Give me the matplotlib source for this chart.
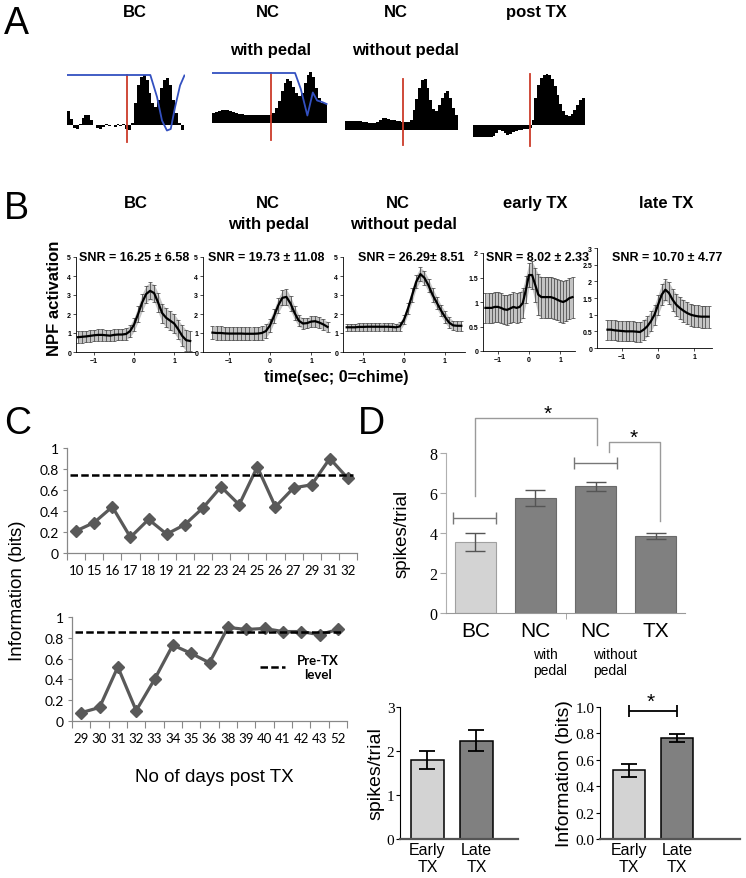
import numpy as np
import matplotlib
matplotlib.use("Agg")
import matplotlib.pyplot as plt
from matplotlib.ticker import FuncFormatter
import matplotlib.transforms as mtrans

plt.rcParams['font.family'] = ['Liberation Sans', 'DejaVu Sans']
CAL = 'Lato'
SERIF = ['Liberation Serif', 'DejaVu Serif']

# ---------------- data ----------------
# A: peri-chime histograms (40 bins, 0 = baseline)
psth_bc = [0.28, 0.12, -0.05, -0.08, 0.02, 0.15, 0.2, 0.2, 0.1, 0.0,
           -0.05, -0.08, -0.03, 0.02, -0.02, 0.01, -0.03, 0.02, -0.01, 0.03,
           -0.08, -0.1, 0.05, 0.45, 0.8, 0.97, 1.0, 0.9, 0.65, 0.45,
           0.37, 0.5, 0.75, 0.9, 0.94, 0.8, 0.5, 0.25, 0.05, -0.1]
psth_nc_pedal = [0.2, 0.22, 0.25, 0.26, 0.26, 0.26, 0.25, 0.23, 0.21, 0.19,
                 0.18, 0.17, 0.17, 0.16, 0.16, 0.16, 0.16, 0.16, 0.16, 0.17,
                 0.17, 0.2, 0.3, 0.45, 0.65, 0.8, 0.88, 0.85, 0.72, 0.6,
                 0.55, 0.6, 0.8, 0.97, 1.02, 0.92, 0.7, 0.5, 0.4, 0.38]
psth_nc_nopedal = [0.18, 0.18, 0.18, 0.19, 0.19, 0.18, 0.17, 0.16, 0.15, 0.14,
                   0.14, 0.17, 0.21, 0.24, 0.24, 0.22, 0.21, 0.2, 0.19, 0.18,
                   0.17, 0.17, 0.17, 0.2, 0.4, 0.62, 0.85, 1.0, 1.02, 0.85,
                   0.6, 0.42, 0.38, 0.5, 0.65, 0.75, 0.78, 0.65, 0.45, 0.3]
psth_post = [-0.24, -0.24, -0.24, -0.24, -0.24, -0.24, -0.24, -0.22, -0.15, -0.09,
             -0.11, -0.16, -0.19, -0.17, -0.14, -0.12, -0.1, -0.09, -0.08, -0.07,
             -0.05, 0.1, 0.55, 0.8, 0.95, 1.0, 1.02, 1.0, 0.92, 0.78,
             0.6, 0.42, 0.28, 0.2, 0.18, 0.22, 0.3, 0.4, 0.5, 0.54]
# blue (pedal) traces
pedal_bc_x = [-0.5, 28.1, 30.4, 32.1, 33.8, 35.1, 36.6, 38.3, 39.8]
pedal_bc_y = [1.0, 1.0, 0.56, 0.09, -0.11, -0.08, 0.36, 0.79, 0.99]
pedal_nc_x = [-0.5, 28.5, 30.5, 32.8, 34.7, 36.2, 37.9, 39.5]
pedal_nc_y = [1.0, 1.0, 0.68, 0.15, 0.61, 0.45, 0.42, 0.38]
chime_bin = 20
a_titles = ['BC', 'NC', 'NC', 'post TX']
a_subtitles = ['', 'with pedal', 'without pedal', '']

# B: NPF activation, mean +- error, time -1.4..1.4 s (0.1 s steps)
t_b = [-1.4, -1.3, -1.2, -1.1, -1.0, -0.9, -0.8, -0.7, -0.6, -0.5, -0.4, -0.3, -0.2, -0.1,
       0.0, 0.1, 0.2, 0.3, 0.4, 0.5, 0.6, 0.7, 0.8, 0.9, 1.0, 1.1, 1.2, 1.3, 1.4]
npf_bc = [0.78, 0.8, 0.82, 0.85, 0.88, 0.9, 0.9, 0.88, 0.86, 0.9, 0.92, 0.92, 0.95, 1.1,
          1.45, 2.0, 2.6, 3.05, 3.22, 3.1, 2.6, 2.05, 1.8, 1.65, 1.5, 1.2, 0.85, 0.62, 0.58]
npf_bc_err = [0.3, 0.3, 0.3, 0.3, 0.3, 0.3, 0.3, 0.3, 0.3, 0.3, 0.3, 0.3, 0.3, 0.32,
              0.35, 0.4, 0.45, 0.45, 0.45, 0.45, 0.5, 0.5, 0.5, 0.5, 0.5, 0.5, 0.55, 0.55, 0.55]
npf_ncp = [1.02, 1.0, 1.0, 0.98, 0.97, 0.97, 0.97, 0.97, 0.96, 0.96, 0.96, 0.97, 1.0, 1.1,
           1.4, 1.9, 2.45, 2.85, 2.9, 2.55, 2.05, 1.65, 1.5, 1.52, 1.6, 1.62, 1.55, 1.45, 1.32]
npf_ncp_err = [0.35, 0.35, 0.35, 0.35, 0.35, 0.35, 0.35, 0.35, 0.35, 0.35, 0.35, 0.35, 0.35, 0.35,
               0.35, 0.35, 0.38, 0.4, 0.4, 0.38, 0.35, 0.3, 0.28, 0.28, 0.28, 0.28, 0.28, 0.28, 0.28]
npf_ncn = [1.3, 1.3, 1.3, 1.32, 1.32, 1.33, 1.33, 1.33, 1.33, 1.33, 1.33, 1.32, 1.3, 1.35,
           1.7, 2.3, 3.0, 3.7, 4.1, 3.9, 3.5, 3.0, 2.6, 2.2, 1.85, 1.55, 1.4, 1.38, 1.38]
npf_ncn_err = [0.2, 0.2, 0.2, 0.2, 0.2, 0.2, 0.2, 0.2, 0.2, 0.2, 0.2, 0.2, 0.2, 0.22,
               0.25, 0.3, 0.35, 0.35, 0.35, 0.35, 0.35, 0.35, 0.32, 0.3, 0.3, 0.28, 0.25, 0.25, 0.25]
npf_early = [0.88, 0.88, 0.88, 0.9, 0.9, 0.88, 0.85, 0.84, 0.87, 0.9, 0.88, 0.9, 0.98, 1.25,
             1.55, 1.55, 1.35, 1.15, 1.1, 1.1, 1.1, 1.1, 1.08, 1.05, 1.02, 1.0, 1.03, 1.08, 1.1]
npf_early_err = [0.3, 0.3, 0.3, 0.3, 0.3, 0.3, 0.3, 0.3, 0.3, 0.3, 0.3, 0.3, 0.3, 0.28,
                 0.25, 0.28, 0.35, 0.42, 0.42, 0.42, 0.42, 0.42, 0.42, 0.42, 0.42, 0.42, 0.42, 0.42, 0.42]
npf_late = [0.55, 0.55, 0.53, 0.52, 0.51, 0.5, 0.5, 0.5, 0.49, 0.48, 0.55, 0.65, 0.8, 1.0,
            1.3, 1.6, 1.75, 1.65, 1.45, 1.3, 1.2, 1.12, 1.05, 1.0, 0.97, 0.95, 0.94, 0.94, 0.94]
npf_late_err = [0.3, 0.3, 0.3, 0.3, 0.3, 0.3, 0.3, 0.3, 0.3, 0.3, 0.3, 0.3, 0.3, 0.3,
                0.3, 0.32, 0.32, 0.32, 0.33, 0.33, 0.33, 0.33, 0.33, 0.33, 0.33, 0.33, 0.33, 0.33, 0.33]
b_titles = ['BC', 'NC', 'NC', 'early TX', 'late TX']
b_subtitles = ['', 'with pedal', 'without pedal', '', '']
snr_labels = ['SNR = 16.25 ± 6.58', 'SNR = 19.73 ± 11.08', 'SNR = 26.29± 8.51',
              'SNR = 8.02 ± 2.33', 'SNR = 10.70 ± 4.77']

# C: information per day
days_pre = ['10', '15', '16', '17', '18', '19', '21', '22', '23', '24', '25', '26', '27', '29', '31', '32']
info_pre = [0.21, 0.29, 0.44, 0.15, 0.32, 0.18, 0.27, 0.43, 0.63, 0.46, 0.82, 0.44, 0.62, 0.65, 0.90, 0.71]
level_pre = 0.74
days_post = ['29', '30', '31', '32', '33', '34', '35', '36', '38', '39', '40', '41', '42', '43', '52']
info_post = [0.08, 0.13, 0.52, 0.10, 0.40, 0.73, 0.65, 0.56, 0.90, 0.88, 0.89, 0.86, 0.86, 0.83, 0.88]
level_post = 0.86

# D: spikes / information
d_groups = ['BC', 'NC', 'NC', 'TX']
d_sub = ['', 'with\npedal', 'without\npedal', '']
d_spikes = [3.55, 5.75, 6.33, 3.87]
d_spikes_err = [0.47, 0.42, 0.22, 0.15]
tx_groups = ['Early\nTX', 'Late\nTX']
tx_spikes = [1.80, 2.23]
tx_spikes_err = [0.21, 0.24]
tx_info = [0.52, 0.765]
tx_info_err = [0.05, 0.03]

# ---------------- figure ----------------
W, H = 746, 879
fig = plt.figure(figsize=(W / 100, H / 100), dpi=100)


def px_axes(x0, y0, x1, y1):
    return fig.add_axes([x0 / W, 1 - y1 / H, (x1 - x0) / W, (y1 - y0) / H])


def ftext(x, y, s, **kw):
    return fig.text(x / W, 1 - y / H, s, **kw)


# panel letters
for letter, (lx, ly) in zip('ABCD', [(16, 24), (16, 209), (18, 424), (371, 424)]):
    ftext(lx, ly, letter, fontsize=27, ha='center', va='center')

# ---- A ----
RED = '#cc3b2a'
BLUE = '#3350c0'
a_data = [psth_bc, psth_nc_pedal, psth_nc_nopedal, psth_post]
a_blue = [(pedal_bc_x, pedal_bc_y), (pedal_nc_x, pedal_nc_y), None, None]
a_boxes = [(67, 70, 185, 150), (212, 70, 328, 150), (345, 70, 459, 150), (473, 70, 586, 150)]
a_ylims = [(-0.48, 1.12), (-0.52, 1.08), (-0.38, 1.22), (-0.48, 1.12)]
a_red = [(1.0, -0.34), (1.0, -0.34), (1.02, -0.3), (1.02, -0.42)]
a_titlex = [135, 268, 396, 536]
a_subx = [135, 271, 405, 536]
for i in range(4):
    ax = px_axes(*a_boxes[i])
    ax.bar(np.arange(len(a_data[i])), a_data[i], width=1.0, color='black', linewidth=0)
    ax.plot([chime_bin, chime_bin], a_red[i], color=RED, lw=1.3)
    if a_blue[i] is not None:
        ax.plot(a_blue[i][0], a_blue[i][1], color=BLUE, lw=1.3)
    ax.set_xlim(-0.5, 40)
    ax.set_ylim(*a_ylims[i])
    ax.axis('off')
    ftext(a_titlex[i], 17, a_titles[i], fontsize=12, fontweight='bold', ha='center', va='baseline')
    if a_subtitles[i]:
        ftext(a_subx[i], 55, a_subtitles[i], fontsize=12, fontweight='bold', ha='center', va='baseline')

# ---- B ----
b_data = [(npf_bc, npf_bc_err), (npf_ncp, npf_ncp_err), (npf_ncn, npf_ncn_err),
          (npf_early, npf_early_err), (npf_late, npf_late_err)]
b_boxes = [(76, 258, 195, 353), (203, 258, 330, 353), (343, 258, 465, 353),
           (483, 254, 575, 352), (597, 249, 712, 349)]
b_xlims = [(-1.45, 1.52), (-1.63, 1.46), (-1.49, 1.49), (-1.48, 1.48), (-1.69, 1.49)]
b_ylims = [(0, 5), (0, 5), (0, 5), (0, 2), (0, 3)]
b_yticks = [[0, 1, 2, 3, 4, 5]] * 3 + [[0, 0.5, 1, 1.5, 2], [0, 0.5, 1, 1.5, 2, 2.5, 3]]
b_titlex = [136, 268, 398, 535, 666]
b_subx = [136, 269, 403, 535, 666]
b_snrx = [134, 266, 411, 538, 667]
tb = np.array(t_b)
for i in range(5):
    ax = px_axes(*b_boxes[i])
    m = np.array(b_data[i][0])
    e = np.array(b_data[i][1])
    ax.fill_between(tb, m - e, m + e, color='#c4c4c4', lw=0)
    ax.errorbar(tb, m, yerr=e, fmt='none', ecolor='#3a3a3a', elinewidth=0.5, capsize=1.2, capthick=0.5)
    ax.plot(tb, m, color='black', lw=1.6)
    ax.set_xlim(*b_xlims[i])
    ax.set_ylim(*b_ylims[i])
    ax.set_xticks([-1, 0, 1])
    ax.set_yticks(b_yticks[i])
    ax.yaxis.set_major_formatter(FuncFormatter(lambda v, p: f'{v:g}'))
    ax.tick_params(labelsize=5, length=2, width=0.5, pad=1.5)
    for lab in ax.get_xticklabels() + ax.get_yticklabels():
        lab.set_fontweight('bold')
    for s in ['top', 'right']:
        ax.spines[s].set_visible(False)
    for s in ['left', 'bottom']:
        ax.spines[s].set_linewidth(0.6)
    ftext(b_titlex[i], 208, b_titles[i], fontsize=12, fontweight='bold', ha='center', va='baseline')
    if b_subtitles[i]:
        ftext(b_subx[i], 229, b_subtitles[i], fontsize=12, fontweight='bold', ha='center', va='baseline')
    ftext(b_snrx[i], 261, snr_labels[i], fontsize=9, fontweight='bold', ha='center', va='baseline')
ftext(55, 298, 'NPF activation', fontsize=12, fontweight='bold', rotation=90, ha='center', va='center')
ftext(336, 382, 'time(sec; 0=chime)', fontsize=11.5, fontweight='bold', ha='center', va='baseline')


# ---- C ----
def info_panel(ax, days, vals, level):
    x = np.arange(len(days))
    ax.plot(x, vals, color='#595959', lw=2.3, marker='D', ms=6, mfc='#595959', mec='#595959')
    ax.axhline(level, xmin=0.01, xmax=0.985, color='black', ls='--', lw=1.8, dashes=(3, 1.3))
    ax.set_xlim(-0.5, len(days) - 0.5)
    ax.set_ylim(0, 1)
    ax.set_xticks(np.arange(-0.5, len(days)))
    ax.set_xticks(x, minor=True)
    ax.set_xticklabels(days, minor=True, fontfamily=CAL, fontsize=9.5)
    ax.tick_params(axis='x', which='major', length=5, color='#888888', labelbottom=False)
    ax.tick_params(axis='x', which='minor', length=0, pad=8)
    ax.set_yticks([0, 0.2, 0.4, 0.6, 0.8, 1.0])
    ax.set_yticklabels(['0', '0.2', '0.4', '0.6', '0.8', '1'], fontfamily=CAL, fontsize=10)
    ax.tick_params(axis='y', length=3, color='#888888', pad=3)
    for s in ['top', 'right']:
        ax.spines[s].set_visible(False)
    for s in ['left', 'bottom']:
        ax.spines[s].set_color('#888888')
        ax.spines[s].set_linewidth(0.9)


ax_c1 = px_axes(67, 449, 357, 554)
info_panel(ax_c1, days_pre, info_pre, level_pre)
ax_c2 = px_axes(72, 618, 347, 722)
info_panel(ax_c2, days_post, info_post, level_post)
leg_line, = ax_c2.plot([], [], color='black', ls='--', lw=1.8, dashes=(3, 1.3))
leg = ax_c2.legend([leg_line], ['Pre-TX\nlevel'], loc='center left', bbox_to_anchor=(0.64, 0.52),
                   frameon=False, handlelength=1.9, handletextpad=0.9,
                   prop={'family': CAL, 'weight': 'bold', 'size': 9.5})
for t in leg.get_texts():
    t.set_multialignment('center')
ftext(18, 591, 'Information (bits)', fontsize=13.5, rotation=90, ha='center', va='center')
ftext(214, 777, 'No of days post TX', fontsize=13.5, ha='center', va='center')

# ---- D top ----
ax_d = px_axes(446, 454, 685, 614)
xd = np.arange(len(d_groups))
ax_d.bar(xd, d_spikes, width=0.68, color=['#d3d3d3', '#808080', '#808080', '#808080'],
         edgecolor=['#a0a0a0', '#6a6a6a', '#6a6a6a', '#6a6a6a'], linewidth=0.8)
ax_d.errorbar(xd, d_spikes, yerr=d_spikes_err, fmt='none', ecolor='#555555', elinewidth=1.0,
              capsize=7.5, capthick=1.0)
ax_d.set_xlim(-0.49, 3.49)
ax_d.set_ylim(0, 8)
ax_d.set_yticks([0, 2, 4, 6, 8])
ax_d.set_yticklabels(['0', '2', '4', '6', '8'], fontfamily=SERIF, fontsize=11.5)
ax_d.tick_params(axis='y', length=4, color='#aaaaaa', pad=2)
ax_d.set_xticks(xd)
ax_d.set_xticklabels(d_groups, fontsize=15)
ax_d.tick_params(axis='x', which='major', length=0, pad=6)
ax_d.set_xticks([1.5], minor=True)
ax_d.tick_params(axis='x', which='minor', length=4, color='#999999')
for s in ['top', 'right']:
    ax_d.spines[s].set_visible(False)
ax_d.spines['left'].set_color('#b0b0b0')
ax_d.spines['bottom'].set_color('#999999')
blend = mtrans.blended_transform_factory(ax_d.transData, ax_d.transAxes)
for xi, sub in zip(xd, d_sub):
    if sub:
        ax_d.text(xi - 0.04, -0.21, sub, transform=blend, fontsize=10, ha='left', va='top',
                  linespacing=1.2)
ax_d.set_ylabel('spikes/trial', fontsize=13.5, labelpad=14)
# significance annotations
GR = '#9a9a9a'
ax_d.plot([0, 0, 2.02, 2.02], [5.85, 9.75, 9.75, 8.4], color=GR, lw=1.0, clip_on=False)
ax_d.plot([2.22, 2.22, 3.07, 3.07], [8.05, 8.55, 8.55, 4.6], color=GR, lw=1.0, clip_on=False)
ax_d.errorbar([-0.02, 2.0], [4.75, 7.5], xerr=[0.36, 0.365], fmt='none', ecolor='#777777',
              elinewidth=1.0, capsize=4, capthick=1.0, clip_on=False)
ax_d.text(1.21, 10.0, '*', fontsize=15, ha='center', va='center')
ax_d.text(2.63, 8.8, '*', fontsize=15, ha='center', va='center')

# ---- D bottom ----
def tx_panel(ax, vals, errs, ylim, yticks, ylabels, ylabel):
    x = np.arange(len(tx_groups))
    ax.bar(x, vals, width=0.67, color=['#d3d3d3', '#808080'], edgecolor='black', linewidth=1.1)
    ax.errorbar(x, vals, yerr=errs, fmt='none', ecolor='black', elinewidth=1.3, capsize=5.5,
                capthick=1.3)
    ax.set_ylim(*ylim)
    ax.set_yticks(yticks)
    ax.set_yticklabels(ylabels, fontfamily=SERIF, fontsize=11)
    ax.tick_params(axis='y', length=3, pad=1)
    ax.set_xticks(x)
    ax.set_xticklabels(tx_groups, fontsize=11.5, linespacing=1.15)
    ax.tick_params(axis='x', length=0, pad=2)
    for s in ['top', 'right']:
        ax.spines[s].set_visible(False)
    ax.spines['bottom'].set_color('#555555')
    ax.spines['bottom'].set_linewidth(1.6)
    ax.set_ylabel(ylabel, fontsize=14, labelpad=2)


ax_e = px_axes(400, 708, 518, 840)
tx_panel(ax_e, tx_spikes, tx_spikes_err, (0, 3), [0, 1, 2, 3], ['0', '1', '2', '3'], 'spikes/trial')
ax_e.set_xlim(-0.56, 1.85)
ax_f = px_axes(600, 708, 740, 840)
tx_panel(ax_f, tx_info, tx_info_err, (0, 1), [0, 0.2, 0.4, 0.6, 0.8, 1.0],
         ['0.0', '0.2', '0.4', '0.6', '0.8', '1.0'], 'Information (bits)')
ax_f.set_xlim(-0.6, 2.31)
ax_f.errorbar([0.5], [0.97], xerr=[0.5], fmt='none', ecolor='black', elinewidth=1.3, capsize=4,
              capthick=1.3, clip_on=False)
ax_f.text(0.45, 1.04, '*', fontsize=15, ha='center', va='center')

fig.savefig('out.png', dpi=100)
